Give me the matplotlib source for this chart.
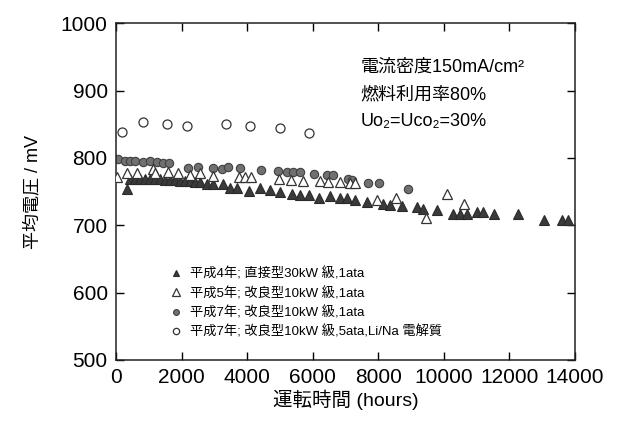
import matplotlib
matplotlib.use("Agg")
import matplotlib.pyplot as plt

plt.rcParams['font.family'] = ['Liberation Sans', 'Noto Sans CJK JP', 'DejaVu Sans']

# Series: 平成4年 直接型30kW級 (filled triangles)
h4_x = [326, 427, 580, 732, 885, 1037, 1190, 1342, 1495, 1647, 1800, 1952, 2105, 2257,
        2410, 2562, 2766, 2959, 3273, 3477, 3681, 4057, 4392, 4697, 5002, 5359, 5612,
        5896, 6201, 6527, 6832, 7036, 7290, 7646, 8150, 8357, 8714, 9172, 9370, 9777,
        10279, 10492, 10706, 11001, 11204, 11539, 12249, 13054, 13593, 13795]
h4_y = [754, 769, 769, 769, 769, 769, 768, 768, 767, 767, 767, 766, 766, 765,
        764, 764, 761, 761, 761, 755, 755, 751, 755, 752, 750, 747, 745,
        745, 740, 743, 741, 740, 738, 734, 731, 730, 728, 727, 724, 722,
        717, 717, 717, 720, 720, 717, 717, 708, 708, 708]

# Series: 平成5年 改良型10kW級 1ata (open triangles)
h5_x = [21, 326, 650, 1138, 1190, 1595, 1900, 2257, 2562, 2968, 3761, 3935, 4118,
        4981, 5329, 5713, 6222, 6466, 6832, 7137, 7290, 7951, 8540, 9455, 10086, 10614]
h5_y = [772, 777, 777, 783, 778, 779, 777, 775, 777, 773, 772, 772, 772,
        768, 767, 766, 766, 764, 764, 763, 763, 737, 741, 710, 747, 731]

# Series: 平成7年 改良型10kW級 1ata (filled circles)
h7a_x = [61, 274, 427, 580, 824, 1037, 1250, 1434, 1617, 2196, 2501, 2959, 3233,
         3416, 3782, 4423, 4941, 5216, 5400, 5612, 6039, 6436, 6619, 7076, 7198,
         7686, 8022, 8906]
h7a_y = [798, 796, 796, 796, 794, 796, 794, 793, 793, 785, 787, 785, 784,
         787, 785, 782, 781, 779, 779, 779, 776, 775, 775, 769, 767,
         763, 763, 754]

# Series: 平成7年 改良型10kW級 5ata Li/Na電解質 (open circles)
h7b_x = [174, 814, 1546, 2175, 3364, 4087, 5011, 5877]
h7b_y = [839, 853, 851, 847, 850, 847, 845, 837]

labels = ['平成4年; 直接型30kW 級,1ata',
          '平成5年; 改良型10kW 級,1ata',
          '平成7年; 改良型10kW 級,1ata',
          '平成7年; 改良型10kW 級,5ata,Li/Na 電解質']

fig = plt.figure(figsize=(6.41, 4.21), dpi=100)
ax = fig.add_axes([0.181, 0.145, 0.716, 0.80])

ms = 6.5
l1, = ax.plot(h4_x, h4_y, ls='none', marker='^', ms=ms, mfc='#3a3a3a', mec='#2a2a2a', mew=0.8)
l2, = ax.plot(h5_x, h5_y, ls='none', marker='^', ms=ms + 1, mfc='white', mec='#333333', mew=0.9)
l3, = ax.plot(h7a_x, h7a_y, ls='none', marker='o', ms=ms - 0.5, mfc='#707070', mec='#404040', mew=0.8)
l4, = ax.plot(h7b_x, h7b_y, ls='none', marker='o', ms=ms, mfc='white', mec='#333333', mew=0.9)
l2.set_zorder(3)

ax.set_xlim(0, 14000)
ax.set_ylim(500, 1000)
ax.set_xticks(range(0, 14001, 2000))
ax.set_yticks(range(500, 1001, 100))
ax.tick_params(direction='in', top=True, right=True, length=6, width=1, labelsize=15, pad=6)
for s in ax.spines.values():
    s.set_linewidth(1.1)
    s.set_color('#222222')

ax.set_xlabel('運転時間 (hours)', fontsize=14, labelpad=2)
ax.set_ylabel('平均電圧 / mV', fontsize=13, labelpad=14)

leg = ax.legend([l1, l2, l3, l4], labels, loc='upper left', bbox_to_anchor=(0.09, 0.31),
                frameon=False, fontsize=9.5, markerscale=0.7, handletextpad=0.6,
                labelspacing=0.45, handlelength=1.0)

ax.text(0.532, 0.868, '電流密度150mA/cm²', transform=ax.transAxes, fontsize=13, va='center')
ax.text(0.532, 0.787, '燃料利用率80%', transform=ax.transAxes, fontsize=13, va='center')
ax.text(0.532, 0.707, 'Uo₂=Uco₂=30%', transform=ax.transAxes, fontsize=13, va='center')

fig.savefig('out.png', dpi=100)
